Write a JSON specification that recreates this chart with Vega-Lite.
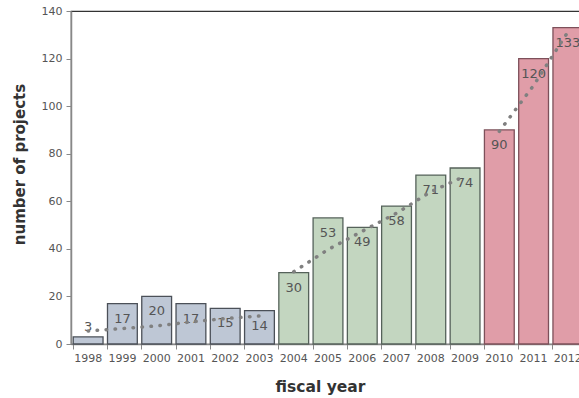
{
  "$schema": "https://vega.github.io/schema/vega-lite/v6.json",
  "autosize": "none",
  "width": 514,
  "height": 333,
  "padding": {"left": 71, "top": 11, "right": 0, "bottom": 54},
  "config": {
    "font": "DejaVu Sans",
    "view": {"stroke": "#333333", "strokeWidth": 1.2},
    "axis": {"labelFont": "DejaVu Sans", "titleFont": "DejaVu Sans"}
  },
  "datasets": {
    "bars": [
      {"year": "1998", "value": 3, "period": "A"},
      {"year": "1999", "value": 17, "period": "A"},
      {"year": "2000", "value": 20, "period": "A"},
      {"year": "2001", "value": 17, "period": "A"},
      {"year": "2002", "value": 15, "period": "A"},
      {"year": "2003", "value": 14, "period": "A"},
      {"year": "2004", "value": 30, "period": "B"},
      {"year": "2005", "value": 53, "period": "B"},
      {"year": "2006", "value": 49, "period": "B"},
      {"year": "2007", "value": 58, "period": "B"},
      {"year": "2008", "value": 71, "period": "B"},
      {"year": "2009", "value": 74, "period": "B"},
      {"year": "2010", "value": 90, "period": "C"},
      {"year": "2011", "value": 120, "period": "C"},
      {"year": "2012", "value": 133, "period": "C"}
    ],
    "trend": [
      {"year": "1998", "trend": 5.5, "seg": "A"},
      {"year": "1999", "trend": 6.5, "seg": "A"},
      {"year": "2000", "trend": 7.6, "seg": "A"},
      {"year": "2001", "trend": 9.3, "seg": "A"},
      {"year": "2002", "trend": 10.7, "seg": "A"},
      {"year": "2003", "trend": 11.8, "seg": "A"},
      {"year": "2004", "trend": 30.4, "seg": "B"},
      {"year": "2005", "trend": 39.7, "seg": "B"},
      {"year": "2006", "trend": 47.4, "seg": "B"},
      {"year": "2007", "trend": 55, "seg": "B"},
      {"year": "2008", "trend": 64, "seg": "B"},
      {"year": "2009", "trend": 70.6, "seg": "B"},
      {"year": "2010", "trend": 89.4, "seg": "C"},
      {"year": "2011", "trend": 108.7, "seg": "C"},
      {"year": "2012", "trend": 131.2, "seg": "C"}
    ]
  },
  "encoding": {
    "x": {
      "field": "year",
      "type": "ordinal",
      "scale": {"paddingInner": 0.13, "paddingOuter": 0.065},
      "axis": {
        "title": "fiscal year",
        "labelAngle": 0,
        "bandPosition": 0,
        "labelColor": "#555555",
        "labelFontSize": 11,
        "labelPadding": 3,
        "tickColor": "#888888",
        "tickSize": 5,
        "domainColor": "#888888",
        "domainWidth": 1.5,
        "titleFontSize": 15.5,
        "titleFontWeight": "bold",
        "titleColor": "#333333",
        "titlePadding": 16,
        "titleX": 249
      }
    }
  },
  "layer": [
    {
      "data": {"name": "bars"},
      "mark": {"type": "bar", "strokeWidth": 1.3},
      "encoding": {
        "y": {
          "field": "value",
          "type": "quantitative",
          "scale": {"domain": [0, 140]},
          "axis": {
            "title": "number of projects",
            "values": [0, 20, 40, 60, 80, 100, 120, 140],
            "grid": false,
            "labelColor": "#555555",
            "labelFontSize": 11,
            "labelPadding": 4,
            "tickColor": "#888888",
            "tickSize": 5,
            "domainColor": "#888888",
            "domainWidth": 1.5,
            "titleFontSize": 15,
            "titleFontWeight": "bold",
            "titleColor": "#333333",
            "titlePadding": 14,
            "titleY": 153
          }
        },
        "fill": {
          "field": "period",
          "type": "nominal",
          "scale": {"domain": ["A", "B", "C"], "range": ["#BEC7D5", "#C3D6C0", "#E09DA8"]},
          "legend": null
        },
        "stroke": {
          "field": "period",
          "type": "nominal",
          "scale": {"domain": ["A", "B", "C"], "range": ["#4B5058", "#55625A", "#7D505A"]},
          "legend": null
        }
      }
    },
    {
      "data": {"name": "bars"},
      "transform": [{"filter": "datum.value >= 10"}],
      "mark": {"type": "text", "baseline": "middle", "dy": 15, "fontSize": 13, "color": "#555555"},
      "encoding": {
        "y": {"field": "value", "type": "quantitative"},
        "text": {"field": "value", "type": "quantitative"}
      }
    },
    {
      "data": {"name": "bars"},
      "transform": [{"filter": "datum.value < 10"}],
      "mark": {"type": "text", "baseline": "middle", "dy": -10, "fontSize": 13, "color": "#555555"},
      "encoding": {
        "y": {"field": "value", "type": "quantitative"},
        "text": {"field": "value", "type": "quantitative"}
      }
    },
    {
      "data": {"name": "trend"},
      "mark": {"type": "line", "color": "#808080", "strokeWidth": 3.5, "strokeCap": "round", "strokeDash": [0.5, 8.5]},
      "encoding": {
        "y": {"field": "trend", "type": "quantitative"},
        "detail": {"field": "seg", "type": "nominal"}
      }
    }
  ]
}
